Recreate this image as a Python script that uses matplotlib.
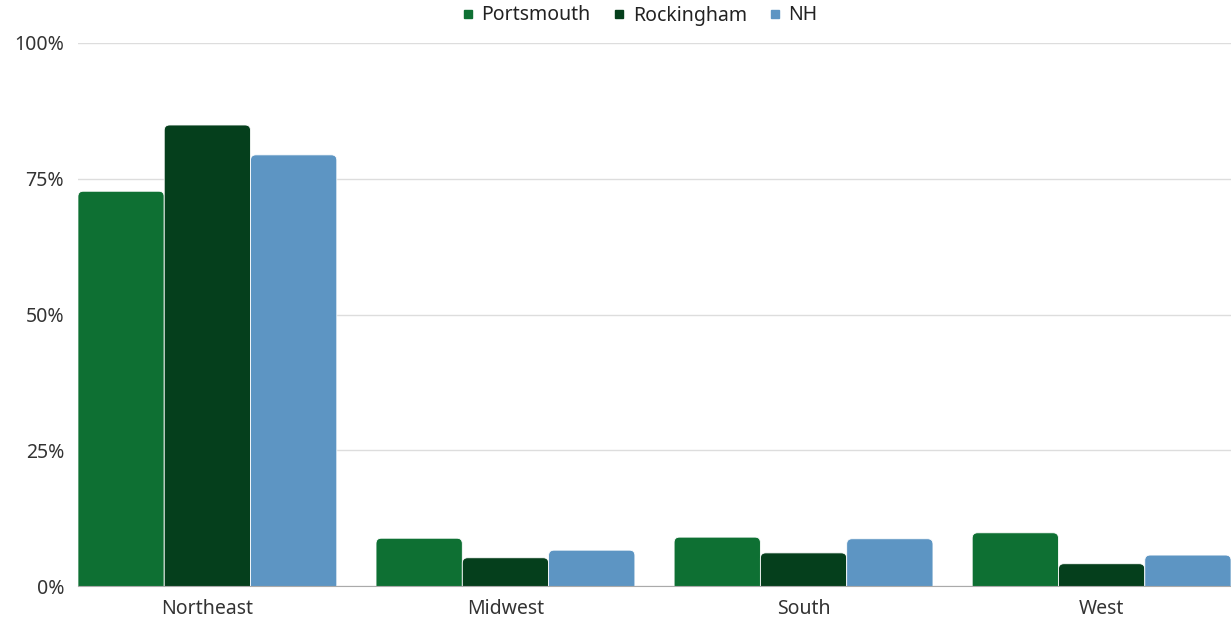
import matplotlib
matplotlib.use("Agg")
import matplotlib.pyplot as plt
from matplotlib.patches import FancyBboxPatch
import numpy as np

categories = ["Northeast", "Midwest", "South", "West"]
series_names = ["Portsmouth", "Rockingham", "NH"]
portsmouth = [72.7, 8.8, 9.0, 9.8]
rockingham = [84.9, 5.2, 6.1, 4.1]
nh = [79.4, 6.6, 8.7, 5.7]
colors = ["#0e7033", "#053f1c", "#5d95c3"]
yticks = [0, 25, 50, 75, 100]
ytick_labels = ["0%", "25%", "50%", "75%", "100%"]

plt.rcParams['font.family'] = ['Noto Sans', 'DejaVu Sans']

fig = plt.figure(figsize=(12.31, 6.2), dpi=100)
ax = fig.add_axes([78/1231, 1-586/620, 1-78/1231, (586-43)/620])

x = np.arange(len(categories))
w = 0.2895
data = [portsmouth, rockingham, nh]
for i, (vals, c, name) in enumerate(zip(data, colors, series_names)):
    bars = ax.bar(x + (i-1)*w, vals, w, color=c, label=name, zorder=3)
    for b in bars:
        b.set_visible(False)
        bx, by = b.get_x(), b.get_y()
        bw, bh = b.get_width(), b.get_height()
        p = FancyBboxPatch((bx, by-3), bw, bh+3,
                           boxstyle="round,pad=0,rounding_size=0.018",
                           mutation_aspect=55, facecolor=c, edgecolor='white',
                           linewidth=0.6, zorder=3)
        ax.add_patch(p)

ax.set_xlim(-0.434, 3.434)
ax.set_ylim(0, 100)
ax.set_yticks(yticks)
ax.set_yticklabels(ytick_labels)
ax.set_xticks(x)
ax.set_xticklabels(categories)
ax.tick_params(axis='both', length=0, labelsize=14, colors='#333333')
ax.tick_params(axis='x', pad=9)
ax.tick_params(axis='y', pad=10)
ax.grid(axis='y', color='#dddddd', linewidth=1, zorder=0)
for s in ['top', 'right', 'left']:
    ax.spines[s].set_visible(False)
ax.spines['bottom'].set_color('#aaaaaa')
ax.spines['bottom'].set_zorder(4)

handles = [plt.Line2D([0], [0], marker='s', linestyle='', color=c, markersize=5.5) for c in colors]
fig.legend(handles, series_names, loc='center', bbox_to_anchor=(638/1231, 1-15.5/620),
           ncol=3, frameon=False, fontsize=14, handletextpad=0.2, columnspacing=0.95,
           handlelength=1.0, labelcolor='#222222', borderpad=0)

fig.savefig("out.png", dpi=100)
